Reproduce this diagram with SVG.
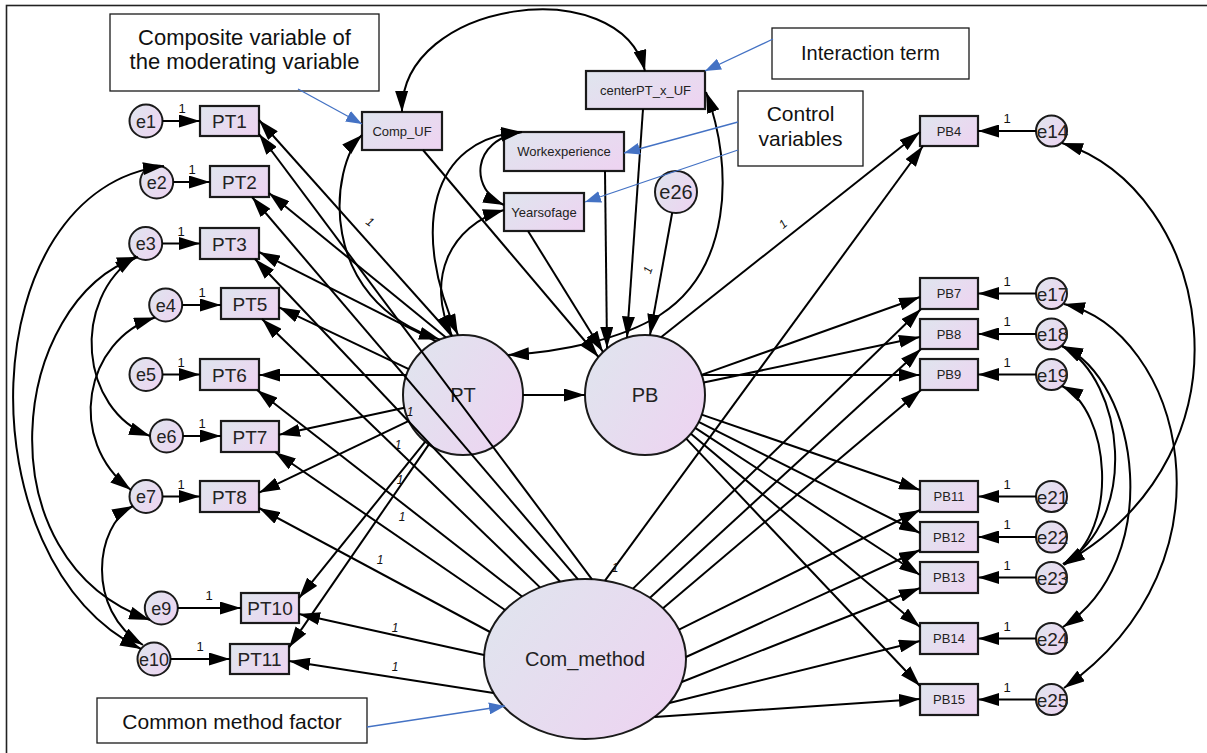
<svg xmlns="http://www.w3.org/2000/svg" width="1207" height="753" viewBox="0 0 1207 753">
  <defs>
    <linearGradient id="fillGrad" x1="0" y1="0.2" x2="1" y2="0.8">
      <stop offset="0" stop-color="#e0e4ee"/>
      <stop offset="1" stop-color="#edd4f1"/>
    </linearGradient>
    <marker id="ah" markerUnits="userSpaceOnUse" markerWidth="22" markerHeight="13" viewBox="0 0 22 13" refX="21" refY="6.5" orient="auto-start-reverse">
      <path d="M0,0 L21,6.5 L0,13 z" fill="#000"/>
    </marker>
    <marker id="bh" markerUnits="userSpaceOnUse" markerWidth="17" markerHeight="12" viewBox="0 0 17 12" refX="16" refY="6" orient="auto">
      <path d="M0,0 L16,6 L0,12 z" fill="#4472c4"/>
    </marker>
    <style>
      .box { fill: url(#fillGrad); stroke: #1a1a1a; stroke-width: 2.2; }
      .lat { fill: url(#fillGrad); stroke: #1a1a1a; stroke-width: 2; }
      .t { font-family: "Liberation Sans", Arial, sans-serif; fill: #222; text-anchor: middle; }
      .pt { font-size: 19px; }
      .pb { font-size: 13px; }
      .el { font-size: 18px; }
      .er { font-size: 19px; }
      .big { font-size: 20px; }
      .one { font-family: "Liberation Sans", Arial, sans-serif; font-size: 13px; fill: #111; text-anchor: middle; }
      .w { font-family: "Liberation Sans", Arial, sans-serif; font-size: 12px; font-style: italic; fill: #111; text-anchor: middle; }
      .call { fill: #fff; stroke: #1a1a1a; stroke-width: 1.3; }
      .ct { font-family: "Liberation Sans", Arial, sans-serif; fill: #111; text-anchor: middle; }
      .c line, .c path { stroke: #000; stroke-width: 2; fill: none; marker-end: url(#ah); }
      .c .cov { marker-start: url(#ah); }
      .blue { stroke: #4472c4; stroke-width: 1.3; fill: none; marker-end: url(#bh); }
    </style>
  </defs>

  <rect width="1207" height="753" fill="#fff"/>
  <rect x="6.5" y="5.5" width="1215" height="765" fill="none" stroke="#222" stroke-width="1.6"/>

  <!-- measured variables for PT -->
  <g id="PT1"><rect class="box" x="200" y="106" width="59" height="30"/><text class="t pt" x="229.5" y="128">PT1</text></g>
  <g id="PT2"><rect class="box" x="210" y="166" width="59" height="31"/><text class="t pt" x="239.5" y="189">PT2</text></g>
  <g id="PT3"><rect class="box" x="200" y="228" width="59" height="31"/><text class="t pt" x="229.5" y="250.5">PT3</text></g>
  <g id="PT5"><rect class="box" x="221" y="288" width="58" height="31"/><text class="t pt" x="250" y="310.5">PT5</text></g>
  <g id="PT6"><rect class="box" x="200" y="359" width="59" height="31"/><text class="t pt" x="229.5" y="381.5">PT6</text></g>
  <g id="PT7"><rect class="box" x="221" y="421" width="58" height="31"/><text class="t pt" x="250" y="443.5">PT7</text></g>
  <g id="PT8"><rect class="box" x="200" y="481" width="59" height="31"/><text class="t pt" x="229.5" y="503.5">PT8</text></g>
  <g id="PT10"><rect class="box" x="241" y="593" width="58" height="30"/><text class="t pt" x="270" y="615">PT10</text></g>
  <g id="PT11"><rect class="box" x="230" y="644" width="59" height="30"/><text class="t pt" x="259.5" y="666">PT11</text></g>

  <!-- error terms, left -->
  <g id="e1"><circle class="lat" cx="146" cy="121" r="16.5"/><text class="t el" x="146" y="127.5">e1</text></g>
  <g id="e2"><circle class="lat" cx="156.7" cy="182" r="16.5"/><text class="t el" x="156.7" y="188.5">e2</text></g>
  <g id="e3"><circle class="lat" cx="145.7" cy="243.5" r="16.5"/><text class="t el" x="145.7" y="250">e3</text></g>
  <g id="e4"><circle class="lat" cx="165.7" cy="305" r="16.5"/><text class="t el" x="165.7" y="311.5">e4</text></g>
  <g id="e5"><circle class="lat" cx="146" cy="374.5" r="16.5"/><text class="t el" x="146" y="381">e5</text></g>
  <g id="e6"><circle class="lat" cx="166.5" cy="436" r="16.5"/><text class="t el" x="166.5" y="442.5">e6</text></g>
  <g id="e7"><circle class="lat" cx="146" cy="496.5" r="16.5"/><text class="t el" x="146" y="503">e7</text></g>
  <g id="e9"><circle class="lat" cx="161.3" cy="608" r="16.5"/><text class="t el" x="161.3" y="614.5">e9</text></g>
  <g id="e10"><circle class="lat" cx="154" cy="659" r="16.5"/><text class="t el" x="154" y="665.5">e10</text></g>

  <!-- measured variables for PB -->
  <g id="PB4"><rect class="box" x="920" y="116" width="58" height="30"/><text class="t pb" x="949" y="135.6">PB4</text></g>
  <g id="PB7"><rect class="box" x="920" y="278" width="58" height="31"/><text class="t pb" x="949" y="298">PB7</text></g>
  <g id="PB8"><rect class="box" x="920" y="319" width="58" height="30"/><text class="t pb" x="949" y="338.6">PB8</text></g>
  <g id="PB9"><rect class="box" x="920" y="359" width="58" height="31"/><text class="t pb" x="949" y="379">PB9</text></g>
  <g id="PB11"><rect class="box" x="920" y="481" width="58" height="31"/><text class="t pb" x="949" y="501">PB11</text></g>
  <g id="PB12"><rect class="box" x="920" y="522" width="58" height="30"/><text class="t pb" x="949" y="541.6">PB12</text></g>
  <g id="PB13"><rect class="box" x="920" y="562" width="58" height="31"/><text class="t pb" x="949" y="582">PB13</text></g>
  <g id="PB14"><rect class="box" x="920" y="623" width="58" height="31"/><text class="t pb" x="949" y="643">PB14</text></g>
  <g id="PB15"><rect class="box" x="920" y="684" width="58" height="31"/><text class="t pb" x="949" y="704">PB15</text></g>

  <!-- error terms, right -->
  <g id="e14"><circle class="lat" cx="1051.5" cy="131" r="15.5"/><text class="t er" x="1052.5" y="138">e14</text></g>
  <g id="e17"><circle class="lat" cx="1051.5" cy="293.5" r="15.5"/><text class="t er" x="1052.5" y="300.5">e17</text></g>
  <g id="e18"><circle class="lat" cx="1051.5" cy="334" r="15.5"/><text class="t er" x="1052.5" y="341">e18</text></g>
  <g id="e19"><circle class="lat" cx="1051.5" cy="374.5" r="15.5"/><text class="t er" x="1052.5" y="381.5">e19</text></g>
  <g id="e21"><circle class="lat" cx="1051.5" cy="496.5" r="15.5"/><text class="t er" x="1052.5" y="503.5">e21</text></g>
  <g id="e22"><circle class="lat" cx="1051.5" cy="537" r="15.5"/><text class="t er" x="1052.5" y="544">e22</text></g>
  <g id="e23"><circle class="lat" cx="1051.5" cy="577.5" r="15.5"/><text class="t er" x="1052.5" y="584.5">e23</text></g>
  <g id="e24"><circle class="lat" cx="1051.5" cy="638.5" r="15.5"/><text class="t er" x="1052.5" y="645.5">e24</text></g>
  <g id="e25"><circle class="lat" cx="1051.5" cy="699.5" r="15.5"/><text class="t er" x="1052.5" y="706.5">e25</text></g>

  <!-- moderator, interaction and controls -->
  <g id="Comp_UF"><rect class="box" x="362" y="112" width="80" height="38"/><text class="t pb" x="402" y="135.5">Comp_UF</text></g>
  <g id="centerPT_x_UF"><rect class="box" x="586" y="71" width="119" height="38"/><text class="t pb" x="645.5" y="94.5">centerPT_x_UF</text></g>
  <g id="Workexperience"><rect class="box" x="504" y="132" width="120" height="39"/><text class="t pb" x="564" y="156">Workexperience</text></g>
  <g id="Yearsofage"><rect class="box" x="504" y="193" width="80" height="38"/><text class="t pb" x="544" y="216.5">Yearsofage</text></g>
  <g id="e26"><circle class="lat" cx="676" cy="192" r="21"/><text class="t big" x="676" y="199">e26</text></g>

  <!-- latent factors -->
  <g id="PT"><circle class="lat" cx="463" cy="395" r="60"/><text class="t big" x="463" y="402">PT</text></g>
  <g id="PB"><circle class="lat" cx="645" cy="395" r="60"/><text class="t big" x="645" y="402">PB</text></g>
  <g id="Com_method"><ellipse class="lat" cx="585" cy="659" rx="101" ry="80"/><text class="t big" x="585" y="666">Com_method</text></g>

  <g id="connectors" class="c">
    <!-- error terms to PT indicators -->
    <line x1="162.5" y1="121" x2="200" y2="121"/>
    <line x1="173.2" y1="182" x2="210" y2="182"/>
    <line x1="162.2" y1="243.5" x2="200" y2="243.5"/>
    <line x1="182.2" y1="305" x2="221" y2="305"/>
    <line x1="162.5" y1="374.5" x2="200" y2="374.5"/>
    <line x1="183" y1="436" x2="221" y2="436"/>
    <line x1="162.5" y1="496.5" x2="200" y2="496.5"/>
    <line x1="177.8" y1="608" x2="241" y2="608"/>
    <line x1="170.5" y1="659" x2="230" y2="659"/>
    <!-- error terms to PB indicators -->
    <line x1="1036" y1="131" x2="978" y2="131"/>
    <line x1="1036" y1="293.5" x2="978" y2="293.5"/>
    <line x1="1036" y1="334" x2="978" y2="334"/>
    <line x1="1036" y1="374.5" x2="978" y2="374.5"/>
    <line x1="1036" y1="496.5" x2="978" y2="496.5"/>
    <line x1="1036" y1="537" x2="978" y2="537"/>
    <line x1="1036" y1="577.5" x2="978" y2="577.5"/>
    <line x1="1036" y1="638.5" x2="978" y2="638.5"/>
    <line x1="1036" y1="699.5" x2="978" y2="699.5"/>
    <line x1="672.2" y1="212.7" x2="650" y2="335"/>

    <!-- PT loadings -->
    <line x1="452" y1="336" x2="259" y2="120"/>
    <line x1="446" y1="337.5" x2="269" y2="193"/>
    <line x1="436" y1="341.4" x2="259" y2="252"/>
    <line x1="408.8" y1="369.2" x2="279" y2="307.3"/>
    <line x1="406.4" y1="375" x2="259" y2="375"/>
    <line x1="404.4" y1="407.7" x2="279" y2="434.8"/>
    <line x1="408.9" y1="420.9" x2="259" y2="492.7"/>
    <line x1="425.3" y1="441.7" x2="299" y2="598.1"/>
    <line x1="428.9" y1="444.4" x2="289" y2="647.4"/>

    <!-- method factor loadings, PT side -->
    <line x1="592" y1="579.3" x2="259" y2="134"/>
    <line x1="578" y1="579.3" x2="252" y2="197"/>
    <line x1="560" y1="581.5" x2="255" y2="259"/>
    <line x1="540" y1="587.4" x2="262" y2="319"/>
    <line x1="522" y1="596.5" x2="257" y2="390"/>
    <line x1="505" y1="610" x2="275" y2="452"/>
    <line x1="490" y1="632" x2="259" y2="508"/>
    <line x1="484.1" y1="655" x2="299" y2="614"/>
    <line x1="493.6" y1="693" x2="289" y2="661"/>

    <!-- PB loadings -->
    <line x1="661" y1="337.2" x2="920" y2="132"/>
    <line x1="701.5" y1="374.9" x2="920" y2="297"/>
    <line x1="703.7" y1="382.6" x2="920" y2="337"/>
    <line x1="701.6" y1="375" x2="920" y2="375"/>
    <line x1="701.7" y1="414.6" x2="920" y2="490"/>
    <line x1="698.6" y1="421.9" x2="920" y2="533"/>
    <line x1="695.2" y1="427.9" x2="920" y2="575"/>
    <line x1="690.9" y1="433.7" x2="920" y2="627"/>
    <line x1="686.2" y1="438.6" x2="920" y2="686"/>

    <!-- method factor loadings, PB side -->
    <line x1="605" y1="580.6" x2="923" y2="146"/>
    <line x1="633" y1="588.6" x2="921" y2="309"/>
    <line x1="650" y1="597.8" x2="921" y2="349"/>
    <line x1="663" y1="608.2" x2="921" y2="390"/>
    <line x1="679" y1="629.7" x2="920" y2="510"/>
    <line x1="686" y1="657" x2="920" y2="550"/>
    <line x1="681.7" y1="682" x2="920" y2="588"/>
    <line x1="669.3" y1="703" x2="920" y2="641"/>
    <line x1="654.6" y1="717" x2="920" y2="699"/>

    <!-- structural paths into PB -->
    <line x1="523" y1="395" x2="585" y2="395"/>
    <line x1="423" y1="150" x2="598.5" y2="357"/>
    <line x1="528" y1="231" x2="603" y2="352"/>
    <line x1="605" y1="171" x2="607" y2="348"/>
    <line x1="643" y1="109" x2="627" y2="337.5"/>

    <!-- covariances among exogenous variables -->
    <path class="cov" d="M402,112 C400,0 620,-30 645,71"/>
    <path class="cov" d="M362,135 C330,165 315,300 440,339.6"/>
    <path class="cov" d="M522,132 C430,138 410,230 458,335"/>
    <path class="cov" d="M504,210 C450,225 425,280 452,336"/>
    <path class="cov" d="M522,132 C470,140 470,190 504,205"/>
    <path class="cov" d="M706,92 C735,170 730,270 660,315 C620,340 560,352 508,355"/>

    <!-- error covariances, PT side -->
    <path class="cov" d="M164,166 C-28,190 -38,560 141,649"/>
    <path class="cov" d="M138,257 C10,300 -20,560 150,620"/>
    <path class="cov" d="M136,256 C70,300 80,410 150,436"/>
    <path class="cov" d="M155,317.5 C85,340 65,440 131,490"/>
    <path class="cov" d="M133,506 C95,525 85,610 143,645"/>

    <!-- error covariances, PB side -->
    <path class="cov" d="M1062,143 C1210,190 1265,450 1063,564"/>
    <path class="cov" d="M1064,304 C1180,330 1245,560 1064,688"/>
    <path class="cov" d="M1062,346 C1140,380 1165,560 1063,627"/>
    <path class="cov" d="M1062,346 C1125,380 1140,520 1063,564"/>
    <path class="cov" d="M1062,386 C1110,410 1120,530 1064,565"/>
  </g>

  <!-- fixed parameter labels -->
  <g id="weights">
    <text class="one" x="182" y="113">1</text>
    <text class="one" x="192" y="174">1</text>
    <text class="one" x="181" y="235.5">1</text>
    <text class="one" x="202" y="297">1</text>
    <text class="one" x="181" y="366.5">1</text>
    <text class="one" x="202" y="428">1</text>
    <text class="one" x="181" y="488.5">1</text>
    <text class="one" x="209" y="600">1</text>
    <text class="one" x="200" y="651">1</text>
    <text class="one" x="1007" y="123">1</text>
    <text class="one" x="1007" y="285.5">1</text>
    <text class="one" x="1007" y="326">1</text>
    <text class="one" x="1007" y="366.5">1</text>
    <text class="one" x="1007" y="488.5">1</text>
    <text class="one" x="1007" y="529">1</text>
    <text class="one" x="1007" y="569.5">1</text>
    <text class="one" x="1007" y="630.5">1</text>
    <text class="one" x="1007" y="691.5">1</text>
    <text class="w" x="370" y="226" transform="rotate(35 370 222)">1</text>
    <text class="w" x="783" y="228" transform="rotate(-40 783 224)">1</text>
    <text class="w" x="648" y="274" transform="rotate(-70 648 270)">1</text>
    <text class="w" x="410" y="416">1</text>
    <text class="w" x="398" y="449">1</text>
    <text class="w" x="400" y="484">1</text>
    <text class="w" x="402" y="521">1</text>
    <text class="w" x="380" y="564">1</text>
    <text class="w" x="395" y="632">1</text>
    <text class="w" x="395" y="671">1</text>
    <text class="w" x="615" y="572">1</text>
  </g>

  <!-- annotations -->
  <g id="note-moderator">
    <rect class="call" x="110" y="14" width="269" height="77"/>
    <text class="ct" x="244.5" y="45" font-size="22">Composite variable of</text>
    <text class="ct" x="244.5" y="69" font-size="22">the moderating variable</text>
    <line class="blue" x1="298" y1="89" x2="362" y2="124"/>
  </g>
  <g id="note-interaction">
    <rect class="call" x="772" y="28" width="197" height="51"/>
    <text class="ct" x="870.5" y="60" font-size="20">Interaction term</text>
    <line class="blue" x1="773" y1="39" x2="705" y2="71"/>
  </g>
  <g id="note-controls">
    <rect class="call" x="738" y="91" width="125" height="75"/>
    <text class="ct" x="800.5" y="121" font-size="21">Control</text>
    <text class="ct" x="800.5" y="146" font-size="21">variables</text>
    <line class="blue" x1="738" y1="122" x2="624" y2="153"/>
    <line class="blue" x1="738" y1="150" x2="585" y2="202"/>
  </g>
  <g id="note-method">
    <rect class="call" x="97" y="698" width="270" height="45"/>
    <text class="ct" x="232" y="728.5" font-size="21">Common method factor</text>
    <line class="blue" x1="367" y1="727" x2="505" y2="706"/>
  </g>
</svg>
